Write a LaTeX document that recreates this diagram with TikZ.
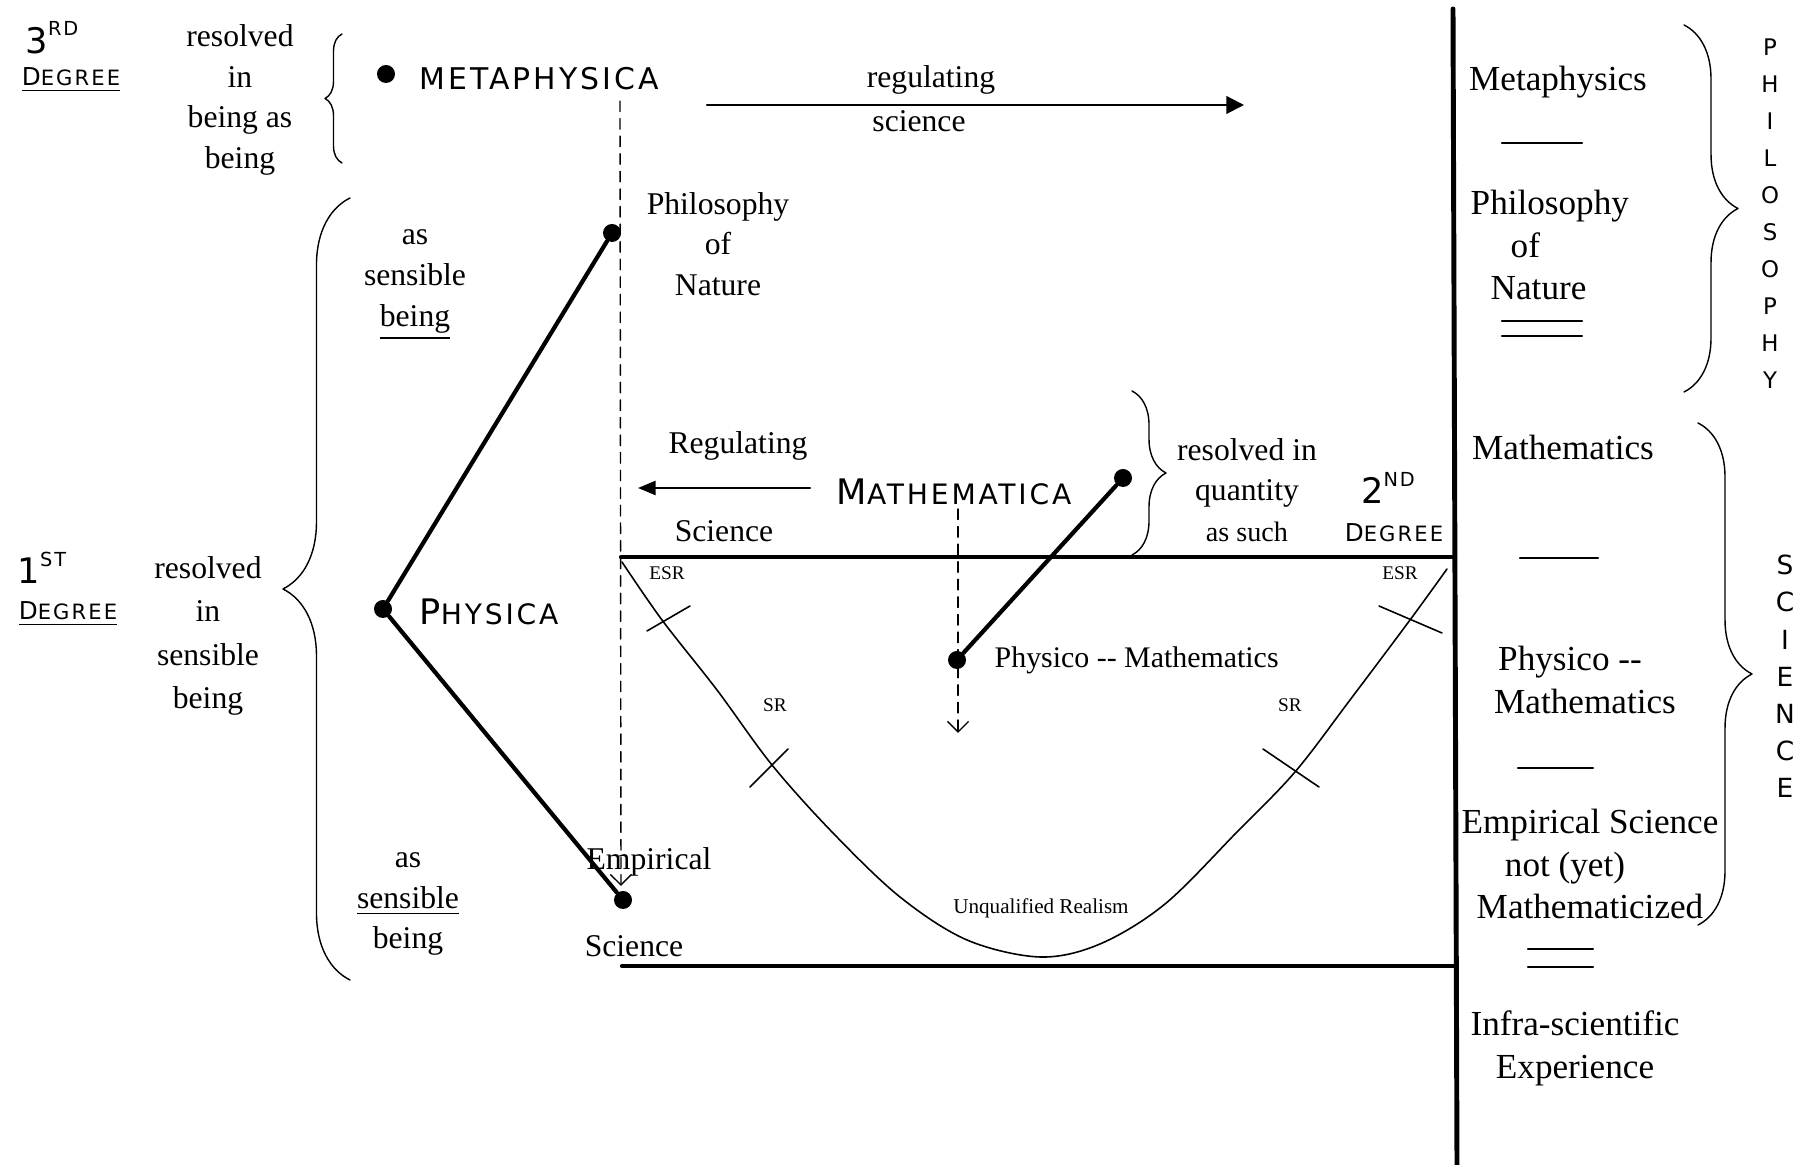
\documentclass[tikz,border=0pt]{standalone}
\usepackage{fontspec}
\setmainfont{Liberation Serif}
\newfontfamily\capfont[LetterSpace=10]{DejaVu Sans}
\usepackage{tikz}
\usetikzlibrary{arrows.meta,decorations.pathreplacing}

% small caps look: big first letter, smaller rest
\newcommand{\smc}[4]{{\capfont\fontsize{#1}{#1}\selectfont #3\fontsize{#2}{#2}\selectfont #4}}
\newcommand{\degnum}[2]{{\capfont\fontsize{10}{10}\selectfont #1\raisebox{.5em}{\fontsize{5.5}{6}\selectfont #2}}}
\newcommand{\degword}{\smc{7}{6}{D}{EGREE}}

\begin{document}
\begin{tikzpicture}[x=0.01cm,y=-0.01cm,line cap=round,line join=round,
  dot/.style={circle,fill=black,inner sep=0pt,minimum size=0.18cm},
  lbl/.style={align=center,inner sep=0pt,font=\fontsize{9}{11.6}\selectfont},
  rlbl/.style={align=center,inner sep=0pt,font=\fontsize{10}{12.2}\selectfont},
  marklbl/.style={inner sep=0pt,font=\fontsize{5.5}{6}\selectfont},
  capsname/.style={inner sep=0pt},
  heavy/.style={line width=1.2pt},
  rule/.style={line width=0.7pt},
  guide/.style={dash pattern=on 3pt off 2pt,line width=0.4pt,-{Straight Barb[length=3pt,width=6pt]}},
  bracer/.style={decorate,decoration={brace,amplitude=#1}}]
\useasboundingbox (0,0) rectangle (1802,1165);

% frame lines
\draw[line width=1.4pt] (1453,9) -- (1457,1165);
\draw[heavy] (621,557) -- (1455,557);
\draw[heavy] (622,966) -- (1455,966);

% left column
\node[capsname] (deg3num) at (52,38) {\degnum{3}{RD}};
\node[capsname] (deg3) at (71,80) {\underline{\degword}};
\node[lbl] (res3) at (240,100) {resolved\\in\\being as\\being};
\draw[bracer=0.17cm] (342,163) -- (342,34);
\node[capsname] (deg1num) at (42,568) {\degnum{1}{ST}};
\node[capsname] (deg1) at (68,614) {\underline{\degword}};
\node[lbl,font=\fontsize{9}{12.4}\selectfont] (res1) at (208,636) {resolved\\in\\sensible\\being};
\draw[bracer=0.67cm] (350,980) -- (350,198);
\node[lbl] (asA) at (415,285) {as\\sensible\\\underline{being}};
\node[lbl] (asB) at (408,904) {as\\\underline{sensible}\\being};

% the sciences
\node[dot] (meta) at (386,74) {};
\node[capsname,anchor=west] (metaname) at (419,79) {\smc{8.5}{8.5}{M}{ETAPHYSICA}};
\node[dot] (philnat) at (612,233) {};
\node[lbl] (philnatM) at (718,244) {Philosophy\\of\\Nature};
\node[dot] (phys) at (383,609) {};
\node[capsname,anchor=west] (physname) at (419,612) {\smc{10}{8}{P}{HYSICA}};
\node[dot] (emp) at (623,900) {};
\node[lbl] (empA) at (649,862) {Empirical};
\node[lbl] (empB) at (634,946) {Science};
\node[dot] (math) at (1123,478) {};
\node[capsname] (mathname) at (954,492) {\smc{10}{8}{M}{ATHEMATICA}};
\node[dot] (physmath) at (957,660) {};
\node[lbl,anchor=west,font=\fontsize{8.5}{10}\selectfont] (physmathM) at (994,660) {Physico -\/- Mathematics};

\draw[heavy] (phys) -- (philnat);
\draw[heavy] (phys) -- (emp);
\draw[heavy] (math) -- (physmath);

% regulating arrows
\coordinate (regA) at (707,105);
\coordinate (regB) at (1244,105);
\draw[line width=0.6pt,-{Triangle[length=5pt,width=5pt]}] (regA) -- (regB);
\node[lbl] (regT1) at (931,80) {regulating};
\node[lbl] (regT2) at (919,121) {science};
\coordinate (regC) at (810,488);
\coordinate (regD) at (638,488);
\draw[line width=0.6pt,-{Triangle[length=5pt,width=4pt]}] (regC) -- (regD);
\node[lbl] (regL1) at (738,446) {Regulating};
\node[lbl] (regL2) at (724,531) {Science};

% dashed guides
\coordinate (dashA) at (620,101);
\coordinate (dashB) at (621,886);
\draw[guide] (dashA) -- (dashB);
\coordinate (dashC) at (958,509);
\coordinate (dashD) at (958,733);
\draw[guide] (dashC) -- (dashD);

% second degree
\draw[bracer=0.34cm] (1132,391) -- (1132,555);
\node[lbl] (quant) at (1247,490) {resolved in\\quantity\\{\fontsize{8}{8}\selectfont as such}};
\node[capsname] (deg2num) at (1388,488) {\degnum{2}{ND}};
\node[capsname] (deg2) at (1394,533) {\degword};

% realism curve
\draw[line width=0.45pt] plot[smooth,tension=0.55] coordinates {(622,562) (662,620) (717,690) (772,765) (833,833) (900,897) (967,940) (1040,957) (1100,944) (1165,904) (1237,832) (1295,772) (1350,700) (1410,620) (1447,569)};
\draw[line width=0.45pt] (647,631) -- (690,606);
\draw[line width=0.45pt] (750,787) -- (788,749);
\draw[line width=0.45pt] (1379,606) -- (1442,633);
\draw[line width=0.45pt] (1263,749) -- (1319,787);
\node[marklbl] (esrL) at (667,573) {ESR};
\node[marklbl] (srL) at (775,705) {SR};
\node[marklbl] (esrR) at (1400,573) {ESR};
\node[marklbl] (srR) at (1290,705) {SR};
\node[marklbl,font=\fontsize{6}{7}\selectfont] (unq) at (1041,908) {Unqualified Realism};

% right column
\node[rlbl] (metaR) at (1558,82) {Metaphysics};
\draw[rule] (1502,143) -- (1582,143);
\node[rlbl,align=left,anchor=west] (philnatR) at (1470,245) {Philosophy\\\hspace*{0.4cm}of\\\hspace*{0.2cm}Nature};
\draw[rule] (1502,321) -- (1582,321);
\draw[rule] (1502,336) -- (1582,336);
\node[rlbl] (mathR) at (1563,447) {Mathematics};
\draw[rule] (1520,558) -- (1598,558);
\node[rlbl] (physmathR) at (1570,680) {Physico -\/-\\\hspace*{0.3cm}Mathematics};
\draw[rule] (1518,768) -- (1593,768);
\node[rlbl] (empR) at (1590,864) {Empirical Science\\\hspace*{-0.5cm}not (yet)\\Mathematicized};
\draw[rule] (1528,949) -- (1593,949);
\draw[rule] (1528,967) -- (1593,967);
\node[rlbl] (infraR) at (1575,1048) {Infra-scientific\\Experience};

\draw[bracer=0.54cm] (1684,25) -- (1684,392);
\foreach \ch [count=\i] in {P,H,I,L,O,S,O,P,H,Y}
  \node[capsname,font=\capfont\fontsize{6.5}{7}\selectfont] (philL\i) at (1770,{47+(\i-1)*37}) {\ch};
\draw[bracer=0.54cm] (1698,423) -- (1698,925);
\foreach \ch [count=\i] in {S,C,I,E,N,C,E}
  \node[capsname,font=\capfont\fontsize{7.5}{8}\selectfont] (sciL\i) at (1785,{565+(\i-1)*37.2}) {\ch};
\end{tikzpicture}
\end{document}
